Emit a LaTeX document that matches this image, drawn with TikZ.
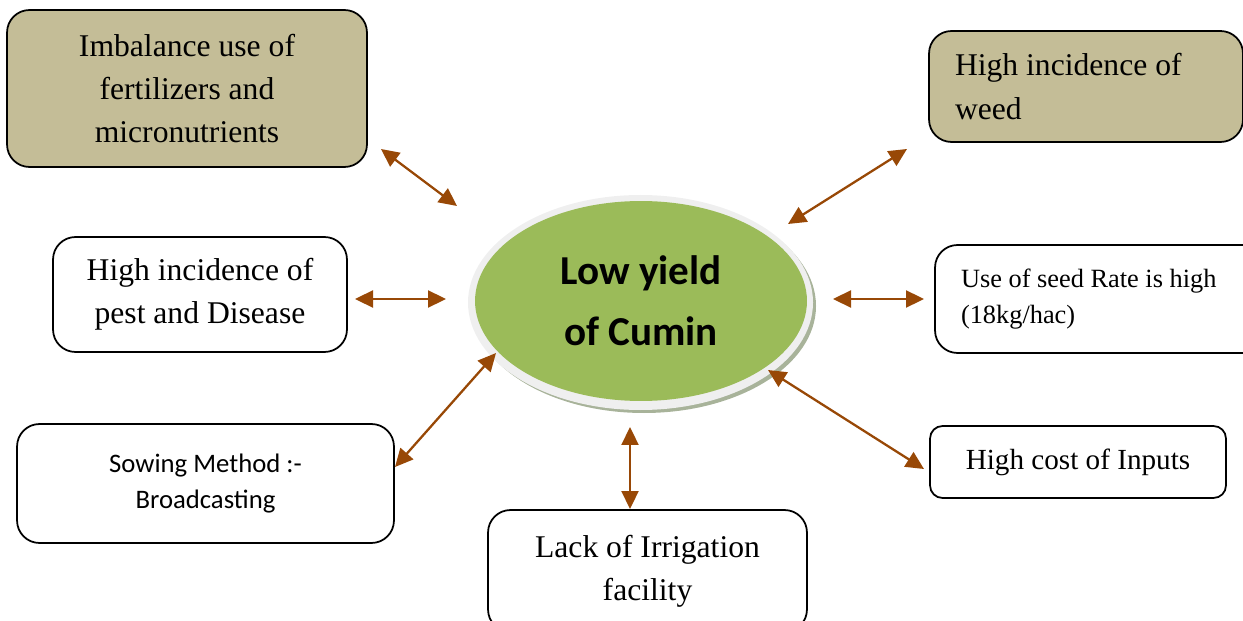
\documentclass[tikz,border=0pt]{standalone}
\usepackage{fontspec}
\setmainfont{Liberation Serif}
\newfontfamily\calfont{Carlito}
\usetikzlibrary{arrows.meta,shapes.geometric}
\definecolor{tanbox}{HTML}{C4BD97}
\definecolor{leafgreen}{HTML}{9BBB59}
\definecolor{arrowbrown}{HTML}{984806}
\definecolor{ringgray}{HTML}{EFEFEF}
\definecolor{shadowgray}{HTML}{A8B39A}
\tikzset{
  cause/.style={draw=black, line width=1pt, rounded corners=0.45cm, align=center,
    inner sep=0pt, font=\fontsize{18}{24.6}\selectfont},
  linkarrow/.style={draw=arrowbrown, line width=1.3pt,
    {Triangle[length=0.36cm,width=0.34cm]}-{Triangle[length=0.36cm,width=0.34cm]}},
}

\begin{document}
\begin{tikzpicture}[x=0.02cm,y=-0.02cm] % 1 unit = 1 px of the page
\useasboundingbox (0,0) rectangle (1243,621);

% centre: low yield
\fill[shadowgray] (644,306) ellipse [x radius=172, y radius=107];
\fill[ringgray] (640.5,302.5) ellipse [x radius=172.5, y radius=107.5];
\node (yield) [ellipse, fill=leafgreen, minimum width=6.64cm, minimum height=4cm,
  inner sep=0pt, align=center, font=\calfont\bfseries\fontsize{23.4}{34.6}\selectfont]
  at (641,301) {Low yield\\of Cumin};

% causes
\node (imb) [cause, fill=tanbox, minimum width=7.2cm, minimum height=3.14cm]
  at (187,88.5) {Imbalance use of\\fertilizers and\\micronutrients};
\node (weed) [cause, fill=tanbox, minimum width=6.28cm, minimum height=2.22cm,
  text width=5.24cm, inner xsep=0.52cm, align=flush left]
  at (1086,86.5) {High incidence of\\weed};
\node (pest) [cause, minimum width=5.88cm, minimum height=2.3cm]
  at (200,294.5) {High incidence of\\pest and Disease};
\node (seed) [cause, minimum width=6.6cm, minimum height=2.16cm,
  text width=5.56cm, inner xsep=0.52cm, align=flush left, font=\fontsize{15}{20}\selectfont]
  at (1100,299) {Use of seed Rate is high\\(18kg/hac)};
\node (cost) [cause, rounded corners=0.25cm, minimum width=5.92cm, minimum height=1.44cm,
  font=\fontsize{16.6}{22}\selectfont]
  at (1078,462) {High cost of Inputs};
\node (sow) [cause, minimum width=7.54cm, minimum height=2.38cm,
  font=\calfont\fontsize{15.2}{21}\selectfont]
  at (205.5,483.5) {Sowing Method :-\\Broadcasting};
\node (irr) [cause, minimum width=6.38cm, minimum height=2.44cm]
  at (647.5,571) {Lack of Irrigation\\facility};

% arrow ends
\coordinate (imb-a) at (381,149);  \coordinate (imb-b) at (457,206);
\coordinate (pest-a) at (355,299); \coordinate (pest-b) at (446,299);
\coordinate (sow-a) at (395,467);  \coordinate (sow-b) at (496,353);
\coordinate (irr-a) at (630,427);  \coordinate (irr-b) at (630,509);
\coordinate (cost-a) at (768,370); \coordinate (cost-b) at (924,469);
\coordinate (seed-a) at (833,299); \coordinate (seed-b) at (924,299);
\coordinate (weed-a) at (788,224); \coordinate (weed-b) at (907,149);

\foreach \s in {imb,pest,sow,irr,cost,seed,weed} {
\draw[linkarrow] (\s-a) -- (\s-b);
}
\end{tikzpicture}
\end{document}
